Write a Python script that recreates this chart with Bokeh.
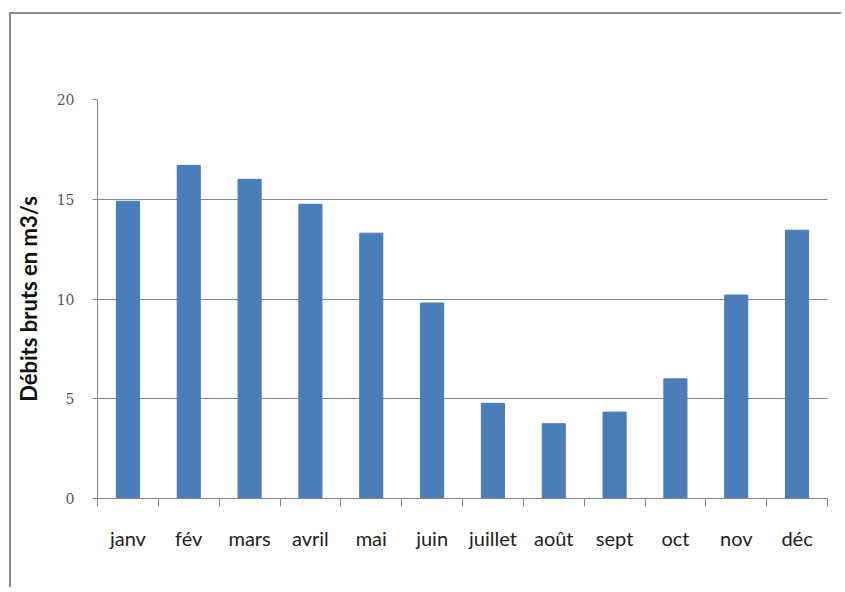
from bokeh.plotting import figure
from bokeh.models import FixedTicker, Range1d, ColumnDataSource
from bokeh.embed import file_html
from bokeh.resources import INLINE

months = ["janv", "fév", "mars", "avril", "mai", "juin", "juillet", "août", "sept", "oct", "nov", "déc"]
debits = [14.9, 16.7, 16.0, 14.75, 13.3, 9.8, 4.77, 3.75, 4.33, 6.0, 10.2, 13.45]
y_ticks = [0, 5, 10, 15, 20]

n = len(months)
xs = [i + 0.5 for i in range(n)]
src = ColumnDataSource(dict(x=xs, top=debits))

p = figure(width=832, height=575, output_backend="svg", toolbar_location=None,
           x_range=Range1d(0, n), y_range=Range1d(0, 20),
           min_border_left=86, min_border_top=85, min_border_right=16, min_border_bottom=91)
p.margin = (12, 0, 0, 9)
p.styles = {"border-left": "2px solid #8a8a8a", "border-top": "2px solid #8a8a8a"}
p.outline_line_color = None
p.background_fill_color = "white"
p.border_fill_color = "white"

p.vbar(x="x", top="top", width=0.38, bottom=0, source=src,
       fill_color="#4A7EBB", line_color="#4A7EBB")

# x axis: labels at centers, ticks at boundaries
p.xaxis.ticker = FixedTicker(ticks=xs, minor_ticks=list(range(n + 1)))
p.xaxis.major_label_overrides = {x: m for x, m in zip(xs, months)}
p.xaxis.major_tick_line_color = None
p.xaxis.major_tick_out = 0
p.xaxis.major_tick_in = 0
p.xaxis.minor_tick_line_color = "#868686"
p.xaxis.minor_tick_out = 8
p.xaxis.minor_tick_in = 0
p.xaxis.axis_line_color = "#868686"
p.xaxis.major_label_standoff = 19
p.xaxis.major_label_text_font = "Lato"
p.xaxis.major_label_text_font_size = "20px"
p.xaxis.major_label_text_color = "#222222"
p.xgrid.grid_line_color = None

# y axis
p.yaxis.ticker = FixedTicker(ticks=y_ticks, minor_ticks=[])
p.yaxis.axis_line_color = "#868686"
p.yaxis.major_tick_line_color = "#868686"
p.yaxis.major_tick_out = 5
p.yaxis.major_tick_in = 0
p.yaxis.minor_tick_line_color = None
p.yaxis.major_label_standoff = 18
p.yaxis.major_label_text_font = "DejaVu Serif"
p.yaxis.major_label_text_font_size = "14px"
p.yaxis.major_label_text_color = "#555555"
p.yaxis.axis_label = "Débits bruts en m3/s"
p.yaxis.axis_label_text_font = "Lato"
p.yaxis.axis_label_text_font_style = "bold"
p.yaxis.axis_label_text_font_size = "22px"
p.yaxis.axis_label_text_color = "#111111"
p.yaxis.axis_label_standoff = 12
p.ygrid.grid_line_color = "#868686"
p.ygrid.grid_line_width = 1

open("out.html", "w").write(file_html(p, INLINE))
